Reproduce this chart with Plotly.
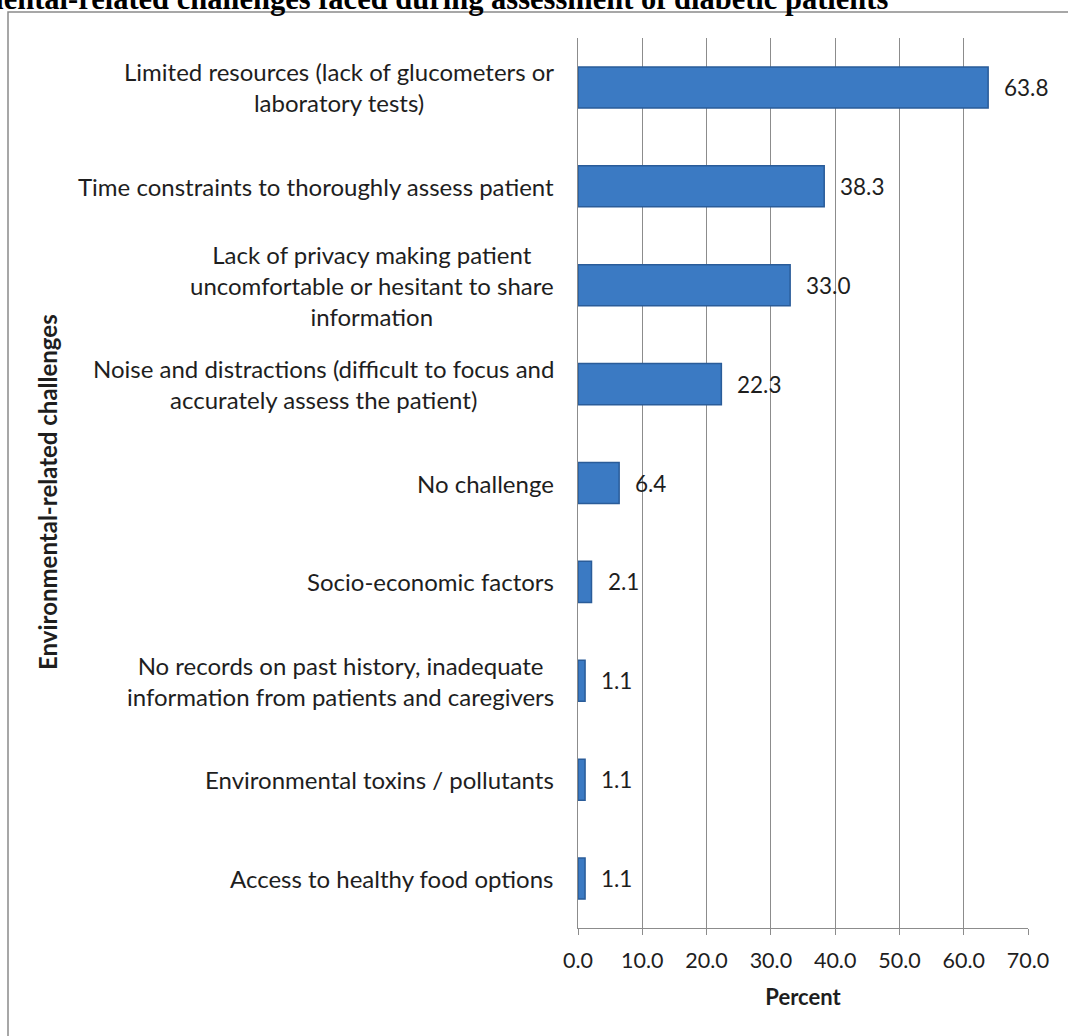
import plotly.graph_objects as go

categories = [
    "Limited resources (lack of glucometers or<br>laboratory tests)",
    "Time constraints to thoroughly assess patient",
    "Lack of privacy making patient<br>uncomfortable or hesitant to share<br>information",
    "Noise and distractions (difficult to focus and<br>accurately assess the patient)",
    "No challenge",
    "Socio-economic factors",
    "No records on past history, inadequate<br>information from patients and caregivers",
    "Environmental toxins / pollutants",
    "Access to healthy food options",
]
values = [63.8, 38.3, 33.0, 22.3, 6.4, 2.1, 1.1, 1.1, 1.1]
x_ticks = [0, 10, 20, 30, 40, 50, 60, 70]
x_tick_labels = ["0.0", "10.0", "20.0", "30.0", "40.0", "50.0", "60.0", "70.0"]

FONT = "Lato"
TXT = "#1e1e1e"
W, H = 1068, 1036
L, R, T, B = 578, 40, 38, 108
PW, PH = W - L - R, H - T - B

def px_to_xpaper(px):
    return (px - L) / PW

def px_to_ypaper(py):
    return (H - B - py) / PH

fig = go.Figure()
fig.add_trace(go.Bar(
    x=values, y=categories, orientation="h",
    marker=dict(color="#3b7ac3", line=dict(color="#2a5c99", width=1.5)),
    hoverinfo="skip",
))

annotations = []
for cat, v in zip(categories, values):
    annotations.append(dict(
        x=v, y=cat, xref="x", yref="y", text=f"{v:.1f}", showarrow=False,
        xanchor="left", yanchor="middle", xshift=14,
        font=dict(family=FONT, size=22.5, color=TXT),
    ))
    annotations.append(dict(
        x=0, y=cat, xref="paper", yref="y", text=cat, showarrow=False,
        xanchor="right", yanchor="middle", align="center", xshift=-22,
        font=dict(family=FONT, size=24, color=TXT),
    ))

annotations.append(dict(
    x=px_to_xpaper(47), y=px_to_ypaper(492), xref="paper", yref="paper",
    text="<b>Environmental-related challenges</b>", textangle=-90,
    showarrow=False, xanchor="center", yanchor="middle",
    font=dict(family=FONT, size=24, color=TXT),
))
annotations.append(dict(
    x=px_to_xpaper(890), y=px_to_ypaper(18), xref="paper", yref="paper",
    text="<b>Environmental-related challenges faced during assessment of diabetic patients</b>",
    showarrow=False, xanchor="right", yanchor="bottom",
    font=dict(family="Liberation Serif", size=30.5, color="#000000"),
))

fig.update_layout(
    width=W, height=H,
    margin=dict(l=L, r=R, t=T, b=B),
    paper_bgcolor="white", plot_bgcolor="white",
    showlegend=False,
    bargap=0.585,
    annotations=annotations,
    shapes=[dict(
        type="rect", xref="paper", yref="paper",
        x0=px_to_xpaper(8), x1=px_to_xpaper(1080),
        y0=px_to_ypaper(1050), y1=px_to_ypaper(12),
        line=dict(color="#8a8a8a", width=1.5), fillcolor="rgba(0,0,0,0)",
        layer="below",
    )],
    xaxis=dict(
        range=[0, 70], tickvals=x_ticks, ticktext=x_tick_labels,
        showgrid=True, gridcolor="#8c8c8c", gridwidth=1,
        showline=True, linecolor="#8c8c8c", linewidth=1,
        ticks="outside", ticklen=6, tickcolor="#8c8c8c",
        tickfont=dict(family=FONT, size=21.5, color=TXT),
        ticklabelstandoff=7,
        title=dict(text="<b>Percent</b>", font=dict(family=FONT, size=22, color=TXT), standoff=17),
        zeroline=False, fixedrange=True,
    ),
    yaxis=dict(
        autorange="reversed", showticklabels=False,
        showline=True, linecolor="#8c8c8c", linewidth=1,
        showgrid=False, ticks="", fixedrange=True,
    ),
)

fig.write_html("out.html")
